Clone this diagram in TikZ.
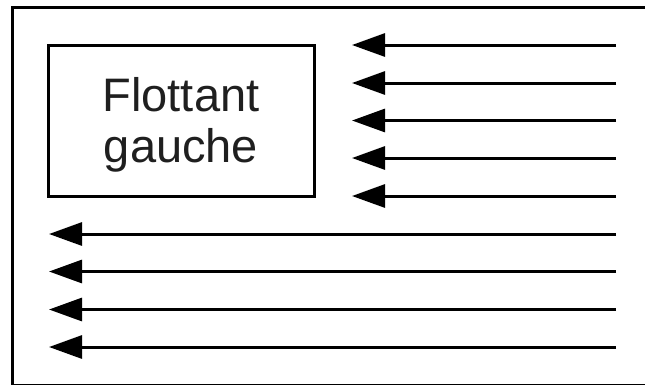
\documentclass[tikz,border=0pt]{standalone}
\usepackage{fontspec}
\setmainfont{Liberation Sans}
\usetikzlibrary{arrows.meta}
\begin{document}
\begin{tikzpicture}[x=1pt,y=-1pt,
  frame/.style={draw=black,line width=3pt},
  floatbox/.style={draw=black,line width=3pt,minimum width=266pt,minimum height=151pt,inner sep=0pt},
  floattext/.style={align=center,inner sep=0pt,font=\fontsize{47}{51}\selectfont,text=black!88},
  flow/.style={line width=3pt,-{Triangle[length=33pt,width=23pt]}}]
\useasboundingbox (0,0) rectangle (645,384);
\clip (0,0) rectangle (645,384);
\draw[frame] (12,7.5) rectangle (660,385.2);
\node[floatbox] (float) at (181,120.5) {};
\node[floattext] (label) at (181,124.5) {Flottant\\gauche};
\foreach \i/\y in {1/45,2/83,3/120.5,4/158,5/196}{
  \coordinate (s\i) at (616,\y);
  \coordinate (e\i) at (352,\y);
  \draw[flow] (s\i) -- (e\i);
}
\foreach \i/\y in {1/234,2/271.5,3/309.5,4/347}{
  \coordinate (ls\i) at (616,\y);
  \coordinate (le\i) at (49,\y);
  \draw[flow] (ls\i) -- (le\i);
}
\end{tikzpicture}
\end{document}
